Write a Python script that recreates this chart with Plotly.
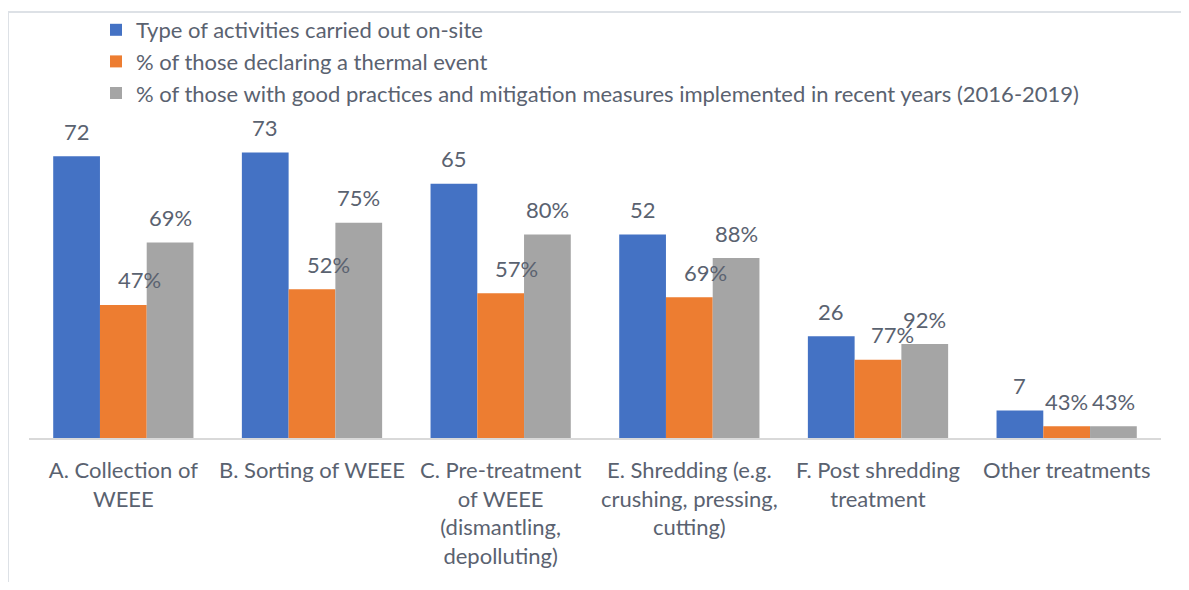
import plotly.graph_objects as go

categories = [
    "A. Collection of<br>WEEE",
    "B. Sorting of WEEE",
    "C. Pre-treatment<br>of WEEE<br>(dismantling,<br>depolluting)",
    "E. Shredding (e.g.<br>crushing, pressing,<br>cutting)",
    "F. Post shredding<br>treatment",
    "Other treatments",
]
series_names = [
    "Type of activities carried out on-site",
    "% of those declaring a thermal event",
    "% of those with good practices and mitigation measures implemented in recent years (2016-2019)",
]
activities = [72, 73, 65, 52, 26, 7]
thermal_counts = [34, 38, 37, 36, 20, 3]
thermal_labels = ["47%", "52%", "57%", "69%", "77%", "43%"]
practice_counts = [50, 55, 52, 46, 24, 3]
practice_labels = ["69%", "75%", "80%", "88%", "92%", "43%"]

colors = ["#4472C4", "#ED7D31", "#A5A5A5"]
TEXT = "#5a6270"
FONT = "Lato"

W, H = 1173, 574
ML, MR, MT, MB = 21, 20, 117, 144
BARGAP = 0.2566
plot_w = W - ML - MR
plot_h = H - MT - MB
bar_px = plot_w / len(categories) * (1 - BARGAP) / 3

fig = go.Figure()
values = [activities, thermal_counts, practice_counts]
for i, (name, vals) in enumerate(zip(series_names, values)):
    fig.add_trace(go.Bar(
        x=categories, y=vals, name=name,
        marker=dict(color=colors[i], line=dict(width=0)),
        legendgroup=f"g{i}", hoverinfo="skip",
    ))

label_sets = [[str(v) for v in activities], thermal_labels, practice_labels]
x_shifts = [
    [-bar_px] * 6,
    [16, 16, 16, 16, 14, 0],
    [bar_px] * 6,
]
annotations = []
for s in range(3):
    for j, cat in enumerate(categories):
        annotations.append(dict(
            x=cat, y=values[s][j], xref="x", yref="y",
            text=label_sets[s][j], showarrow=False,
            xshift=x_shifts[s][j], yshift=25,
            font=dict(family=FONT, size=22, color=TEXT),
            xanchor="center", yanchor="middle",
        ))

def px_x(p):
    return (p - ML) / plot_w

def px_y(p):
    return (H - MB - p) / plot_h

shapes = [
    dict(type="line", xref="paper", yref="paper",
         x0=px_x(0), x1=px_x(W), y0=px_y(4), y1=px_y(4),
         line=dict(color="#dde1e6", width=2)),
    dict(type="line", xref="paper", yref="paper",
         x0=px_x(0), x1=px_x(0), y0=px_y(4), y1=px_y(H),
         line=dict(color="#dde1e6", width=2)),
]

fig.update_layout(
    width=W, height=H,
    margin=dict(l=ML, r=MR, t=MT, b=MB, pad=0, autoexpand=False),
    paper_bgcolor="white", plot_bgcolor="white",
    barmode="group", bargap=BARGAP, bargroupgap=0,
    font=dict(family=FONT, size=22, color=TEXT),
    showlegend=True,
    legend=dict(
        x=px_x(88), y=px_y(1), xanchor="left", yanchor="top",
        orientation="v", traceorder="normal", tracegroupgap=1,
        font=dict(family=FONT, size=22, color=TEXT),
        bgcolor="rgba(0,0,0,0)", borderwidth=0,
        itemclick=False, itemdoubleclick=False,
    ),
    xaxis=dict(
        showline=True, linecolor="#d9d9d9", linewidth=1.5,
        showgrid=False, ticks="", ticklabelstandoff=12,
        tickfont=dict(family=FONT, size=22, color=TEXT),
        fixedrange=True, automargin=False,
    ),
    yaxis=dict(
        range=[0, 80], visible=False, showgrid=False, fixedrange=True,
        automargin=False,
    ),
    annotations=annotations,
    shapes=shapes,
)

fig.write_html("out.html", config={"displayModeBar": False})
